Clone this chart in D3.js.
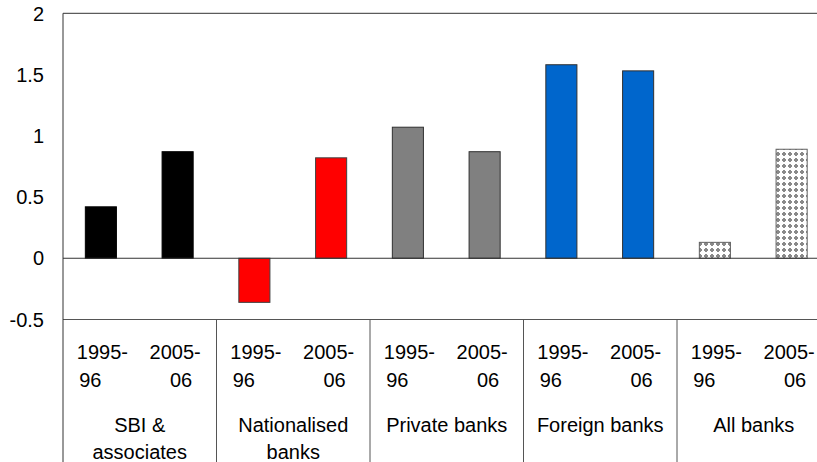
<!DOCTYPE html>
<html><head><meta charset="utf-8">
<script src="https://cdn.jsdelivr.net/npm/d3@7"></script>
<style>body{margin:0;background:#fff}svg{display:block}text{font-family:"Liberation Sans",Arial,sans-serif;fill:#000}</style>
</head><body><svg id="c" width="817" height="462"></svg>
<script>
const groups = ["SBI & associates","Nationalised banks","Private banks","Foreign banks","All banks"];
const groupLines = [["SBI &","associates"],["Nationalised","banks"],["Private banks"],["Foreign banks"],["All banks"]];
const periods = ["1995-96","2005-06"];
const periodLines = [["1995-","96"],["2005-","06"]];
const values1995 = [0.42, -0.36, 1.07, 1.58, 0.13];
const values2005 = [0.87, 0.82, 0.87, 1.53, 0.89];
const yTicks = [-0.5, 0, 0.5, 1, 1.5, 2];
const fills = ["#000000","#ff0000","#808080","#0066cc","url(#dots)"];
const strokes = ["#000000","#404040","#303030","#303030","#606060"];

const svg = d3.select("#c");
const plotLeft = 63, groupW = 153.5;
const plotRight = plotLeft + groups.length * groupW;
const y = d3.scaleLinear().domain([-0.5, 2]).range([319.5, 13.3]);
const xg = d3.scaleBand().domain(groups).range([plotLeft, plotRight]).padding(0);
const xp = d3.scaleBand().domain(periods).range([0, groupW]).padding(0);

const defs = svg.append("defs");
const pat = defs.append("pattern").attr("id","dots").attr("patternUnits","userSpaceOnUse")
  .attr("width",6).attr("height",6).attr("x",1).attr("y",1);
pat.append("rect").attr("width",6).attr("height",6).attr("fill","#fff");
pat.append("rect").attr("x",2).attr("y",1).attr("width",2).attr("height",4).attr("fill","#8a8a8a");
pat.append("rect").attr("x",1).attr("y",2).attr("width",4).attr("height",2).attr("fill","#8a8a8a");

// frame lines
svg.append("line").attr("x1",plotLeft).attr("x2",817).attr("y1",y(2)).attr("y2",y(2)).attr("stroke","#333");
svg.append("line").attr("x1",plotLeft).attr("x2",817).attr("y1",y(-0.5)).attr("y2",y(-0.5)).attr("stroke","#555");

// y tick labels
svg.append("g").selectAll("text").data(yTicks).join("text")
  .attr("x",44).attr("y",d=>y(d)).attr("dy","0.36em").attr("text-anchor","end")
  .attr("font-size",20).text(d=>d);

// bars
const data = [];
groups.forEach((g,i)=>{
  data.push({g, p:periods[0], v:values1995[i], i});
  data.push({g, p:periods[1], v:values2005[i], i});
});
const bw = xp.bandwidth()*0.405;
svg.append("g").selectAll("rect").data(data).join("rect")
  .attr("x",d=>xg(d.g)+xp(d.p)+xp.bandwidth()/2-bw/2 - 0.5)
  .attr("width",bw)
  .attr("y",d=>y(Math.max(0,d.v)))
  .attr("height",d=>Math.abs(y(d.v)-y(0)))
  .attr("fill",d=>fills[d.i]).attr("stroke",d=>strokes[d.i]).attr("stroke-width",1);

// zero line
svg.append("line").attr("x1",plotLeft).attr("x2",817).attr("y1",y(0)).attr("y2",y(0)).attr("stroke","#333");

// y axis & separators
svg.append("line").attr("x1",plotLeft).attr("x2",plotLeft).attr("y1",y(2)).attr("y2",462).attr("stroke","#333");
svg.append("g").selectAll("line").data(groups.slice(1)).join("line")
  .attr("x1",d=>xg(d)).attr("x2",d=>xg(d)).attr("y1",y(-0.5)).attr("y2",462).attr("stroke","#555");

// period labels
const offs = [[1,-11],[-3,3]];
groups.forEach((g,gi)=>{
  periods.forEach((p,pi)=>{
    const cx = xg(g)+xp(p)+xp.bandwidth()/2;
    periodLines[pi].forEach((ln,li)=>{
      svg.append("text").attr("x",cx+offs[pi][li]).attr("y",359+li*28)
        .attr("text-anchor","middle").attr("font-size",20).text(ln);
    });
  });
  const gx = xg(g)+groupW/2;
  groupLines[gi].forEach((ln,li)=>{
    svg.append("text").attr("x",gx).attr("y",432+li*27)
      .attr("text-anchor","middle").attr("font-size",20).text(ln);
  });
});
</script></body></html>
